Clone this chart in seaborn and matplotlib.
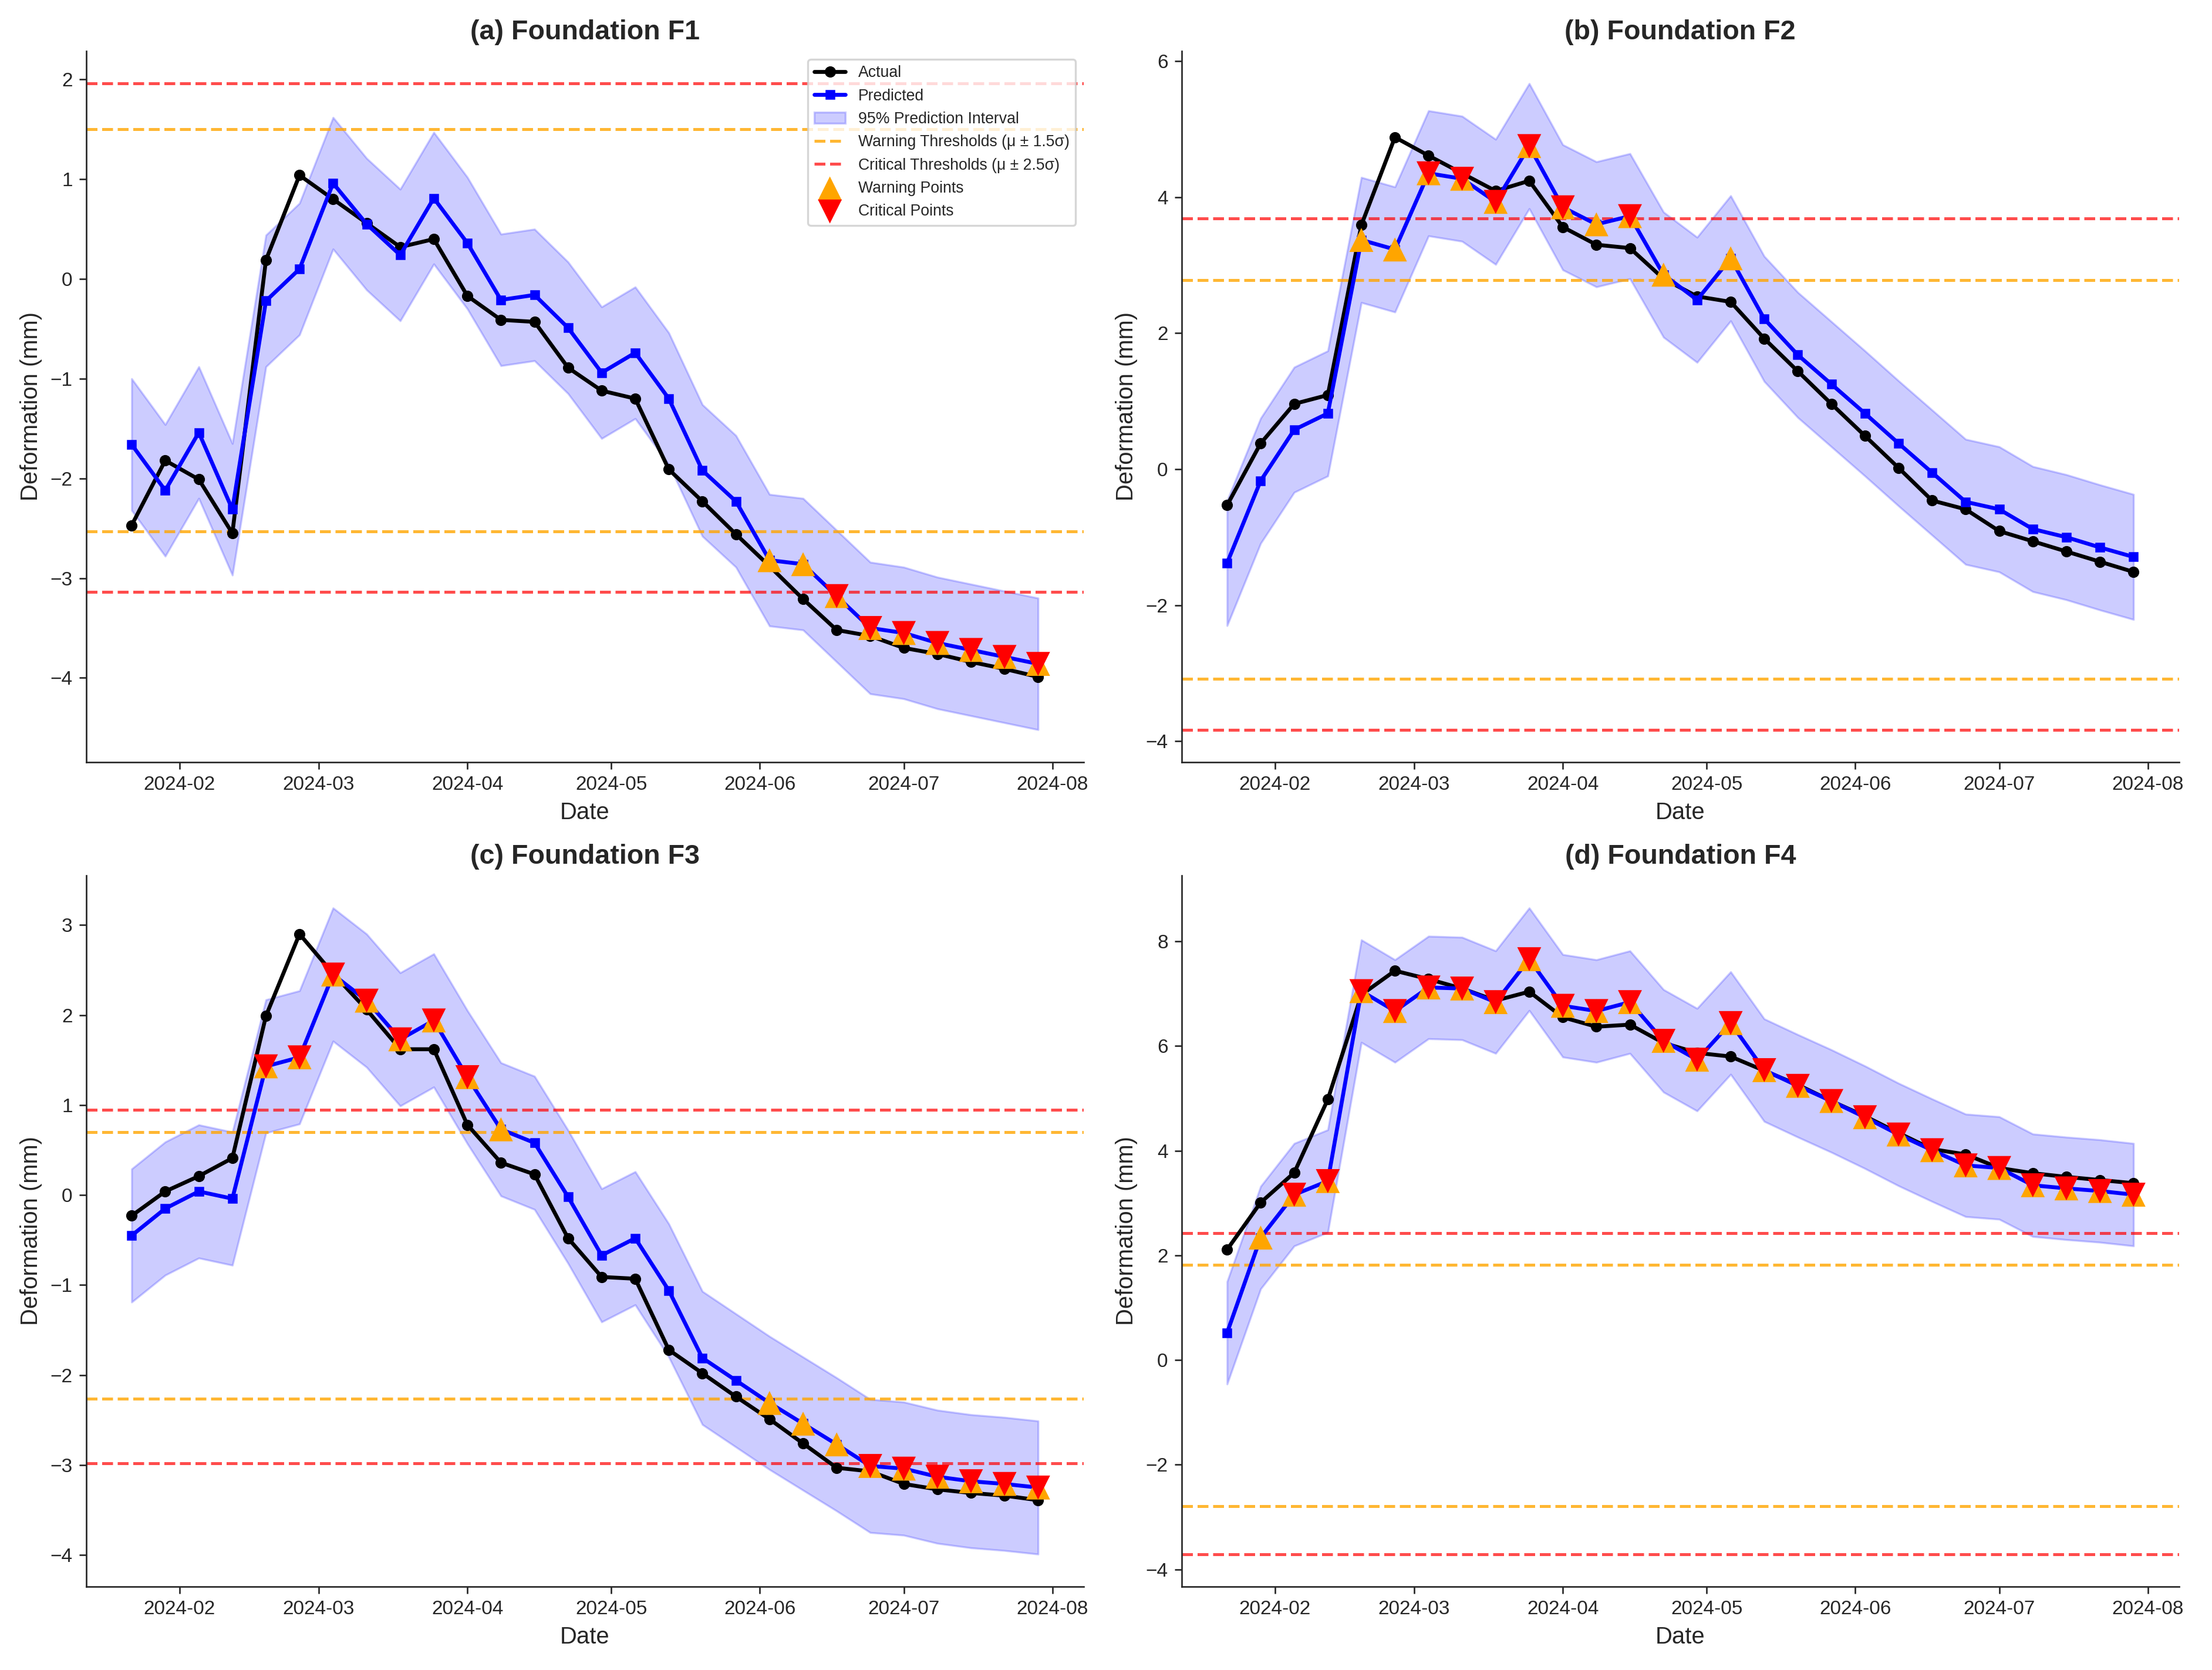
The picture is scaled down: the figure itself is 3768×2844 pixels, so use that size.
import numpy as np
import pandas as pd
import matplotlib
matplotlib.use("Agg")
import matplotlib.pyplot as plt
import seaborn as sns

# ---- data ----
dates = pd.date_range("2024-01-22", periods=28, freq="7D")

foundations = ["F1", "F2", "F3", "F4"]
panel_tags = ["(a)", "(b)", "(c)", "(d)"]

actual_f1 = [-2.47, -1.82, -2.01, -2.55, 0.19, 1.04, 0.80, 0.56, 0.32, 0.40,
             -0.17, -0.41, -0.43, -0.89, -1.12, -1.20, -1.91, -2.23, -2.56, -2.88,
             -3.21, -3.52, -3.58, -3.70, -3.76, -3.84, -3.91, -3.99]
pred_f1 = [-1.66, -2.12, -1.54, -2.31, -0.22, 0.10, 0.96, 0.55, 0.24, 0.81,
           0.36, -0.21, -0.16, -0.49, -0.94, -0.74, -1.20, -1.92, -2.23, -2.82,
           -2.86, -3.18, -3.50, -3.55, -3.65, -3.72, -3.79, -3.86]

actual_f2 = [-0.53, 0.38, 0.96, 1.09, 3.59, 4.88, 4.61, 4.35, 4.09, 4.24,
             3.56, 3.30, 3.25, 2.80, 2.54, 2.46, 1.92, 1.44, 0.96, 0.49,
             0.02, -0.46, -0.59, -0.91, -1.06, -1.21, -1.36, -1.51]
pred_f2 = [-1.38, -0.17, 0.58, 0.82, 3.37, 3.23, 4.35, 4.27, 3.93, 4.75,
           3.85, 3.60, 3.72, 2.86, 2.49, 3.10, 2.21, 1.68, 1.25, 0.82,
           0.38, -0.05, -0.48, -0.59, -0.88, -1.00, -1.15, -1.29]

actual_f3 = [-0.23, 0.04, 0.21, 0.41, 1.99, 2.90, 2.46, 2.06, 1.62, 1.62,
             0.78, 0.36, 0.23, -0.48, -0.91, -0.93, -1.72, -1.98, -2.24, -2.49,
             -2.76, -3.03, -3.07, -3.21, -3.27, -3.31, -3.34, -3.39]
pred_f3 = [-0.45, -0.15, 0.04, -0.04, 1.43, 1.53, 2.45, 2.16, 1.73, 1.94,
           1.31, 0.73, 0.58, -0.02, -0.67, -0.48, -1.06, -1.81, -2.06, -2.31,
           -2.54, -2.77, -3.01, -3.04, -3.13, -3.18, -3.21, -3.25]

actual_f4 = [2.11, 3.01, 3.58, 4.98, 6.98, 7.44, 7.28, 7.10, 6.87, 7.04,
             6.55, 6.37, 6.41, 6.06, 5.87, 5.80, 5.53, 5.26, 4.95, 4.66,
             4.34, 4.03, 3.93, 3.67, 3.57, 3.50, 3.44, 3.38]
pred_f4 = [0.52, 2.34, 3.16, 3.42, 7.05, 6.67, 7.12, 7.10, 6.84, 7.66,
           6.77, 6.67, 6.84, 6.10, 5.74, 6.44, 5.54, 5.24, 4.95, 4.64,
           4.31, 4.01, 3.72, 3.67, 3.34, 3.28, 3.23, 3.16]

# half width of the 95% prediction band, per foundation
band_half = [0.66, 0.92, 0.74, 0.98]

# thresholds: (lower, upper)
warning_thr = [(-2.53, 1.50), (-3.08, 2.78), (-2.26, 0.70), (-2.79, 1.82)]
critical_thr = [(-3.14, 1.96), (-3.83, 3.69), (-2.98, 0.95), (-3.71, 2.42)]

actual_all = [actual_f1, actual_f2, actual_f3, actual_f4]
pred_all = [pred_f1, pred_f2, pred_f3, pred_f4]

# ---- plotting ----
sns.set_style("ticks")
plt.rcParams["font.family"] = ["Liberation Sans", "DejaVu Sans"]

fig, axes = plt.subplots(2, 2, figsize=(15.7, 11.85))
axes = axes.flatten()

for i, ax in enumerate(axes):
    act = np.array(actual_all[i])
    pred = np.array(pred_all[i])
    lo = pred - band_half[i]
    hi = pred + band_half[i]
    w_lo, w_hi = warning_thr[i]
    c_lo, c_hi = critical_thr[i]

    sns.lineplot(x=dates, y=act, ax=ax, color="black", marker="o", markersize=5,
                 markeredgecolor="black", linewidth=2, label="Actual", zorder=3)
    sns.lineplot(x=dates, y=pred, ax=ax, color="blue", marker="s", markersize=4,
                 markeredgecolor="blue", linewidth=2, label="Predicted", zorder=3)
    ax.fill_between(dates, lo, hi, color="blue", alpha=0.2,
                    label="95% Prediction Interval", zorder=1)

    ax.axhline(w_hi, color="orange", linestyle="--", linewidth=1.5, alpha=0.8,
               label="Warning Thresholds (\u03bc \u00b1 1.5\u03c3)")
    ax.axhline(w_lo, color="orange", linestyle="--", linewidth=1.5, alpha=0.8)
    ax.axhline(c_hi, color="red", linestyle="--", linewidth=1.5, alpha=0.7,
               label="Critical Thresholds (\u03bc \u00b1 2.5\u03c3)")
    ax.axhline(c_lo, color="red", linestyle="--", linewidth=1.5, alpha=0.7)

    # flag predicted points outside the thresholds
    warn_mask = (pred > w_hi) | (pred < w_lo)
    crit_mask = (pred > c_hi) | (pred < c_lo)
    sns.scatterplot(x=dates[warn_mask], y=pred[warn_mask], ax=ax, marker="^",
                    color="orange", s=150, edgecolor="none", label="Warning Points",
                    zorder=4)
    sns.scatterplot(x=dates[crit_mask], y=pred[crit_mask], ax=ax, marker="v",
                    color="red", s=150, edgecolor="none", label="Critical Points",
                    zorder=5)

    ax.set_title(f"{panel_tags[i]} Foundation {foundations[i]}", fontsize=14,
                 fontweight="bold")
    ax.set_xlabel("Date", fontsize=12)
    ax.set_ylabel("Deformation (mm)", fontsize=12)
    ax.tick_params(labelsize=10)
    sns.despine(ax=ax)

    if i == 0:
        ax.legend(loc="upper right", fontsize=8, frameon=True)
    else:
        ax.get_legend().remove()

plt.tight_layout()
plt.savefig("out.png", dpi=240)
